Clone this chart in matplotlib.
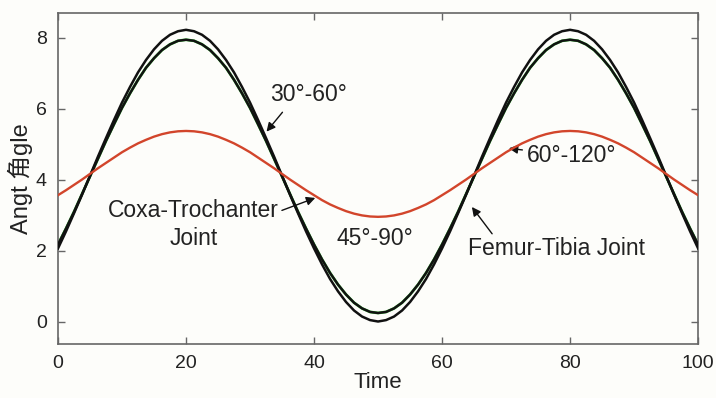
import matplotlib
matplotlib.use("Agg")
import matplotlib.pyplot as plt

plt.rcParams['font.family'] = ['Liberation Sans', 'Noto Sans CJK SC', 'DejaVu Sans']

time = [0.0, 1.25, 2.5, 3.75, 5.0, 6.25, 7.5, 8.75, 10.0, 11.25, 12.5, 13.75, 15.0, 16.25,
        17.5, 18.75, 20.0, 21.25, 22.5, 23.75, 25.0, 26.25, 27.5, 28.75, 30.0, 31.25, 32.5,
        33.75, 35.0, 36.25, 37.5, 38.75, 40.0, 41.25, 42.5, 43.75, 45.0, 46.25, 47.5, 48.75,
        50.0, 51.25, 52.5, 53.75, 55.0, 56.25, 57.5, 58.75, 60.0, 61.25, 62.5, 63.75, 65.0,
        66.25, 67.5, 68.75, 70.0, 71.25, 72.5, 73.75, 75.0, 76.25, 77.5, 78.75, 80.0, 81.25,
        82.5, 83.75, 85.0, 86.25, 87.5, 88.75, 90.0, 91.25, 92.5, 93.75, 95.0, 96.25, 97.5,
        98.75, 100.0]

femur_outer = [2.07, 2.55, 3.06, 3.58, 4.12,
               4.66, 5.18, 5.69, 6.18, 6.62, 7.03, 7.38, 7.68, 7.92, 8.09, 8.19, 8.23,
               8.19, 8.09, 7.92, 7.68, 7.38, 7.03, 6.62, 6.18, 5.69, 5.18, 4.66, 4.12,
               3.58, 3.06, 2.55, 2.07, 1.62, 1.21, 0.86, 0.56, 0.32, 0.15, 0.05, 0.01,
               0.05, 0.15, 0.32, 0.56, 0.86, 1.21, 1.62, 2.07, 2.55, 3.06, 3.58, 4.12,
               4.66, 5.18, 5.69, 6.18, 6.62, 7.03, 7.38, 7.68, 7.92, 8.09, 8.19, 8.23,
               8.19, 8.09, 7.92, 7.68, 7.38, 7.03, 6.62, 6.18, 5.69, 5.18, 4.66, 4.12,
               3.58, 3.06, 2.55, 2.07]

femur_inner = [2.18, 2.63, 3.10, 3.60, 4.10,
               4.60, 5.10, 5.57, 6.03, 6.44, 6.82, 7.16, 7.43, 7.66, 7.82, 7.92, 7.95,
               7.92, 7.82, 7.66, 7.43, 7.16, 6.82, 6.44, 6.03, 5.57, 5.10, 4.60, 4.10,
               3.60, 3.10, 2.63, 2.18, 1.76, 1.38, 1.05, 0.77, 0.54, 0.38, 0.28, 0.25,
               0.28, 0.38, 0.54, 0.77, 1.05, 1.38, 1.76, 2.18, 2.63, 3.10, 3.60, 4.10,
               4.60, 5.10, 5.57, 6.03, 6.44, 6.82, 7.16, 7.43, 7.66, 7.82, 7.92, 7.95,
               7.92, 7.82, 7.66, 7.43, 7.16, 6.82, 6.44, 6.03, 5.57, 5.10, 4.60, 4.10,
               3.60, 3.10, 2.63, 2.18]

coxa = [3.57, 3.71, 3.86, 4.01, 4.17,
        4.33, 4.48, 4.63, 4.78, 4.91, 5.03, 5.13, 5.22, 5.29, 5.34, 5.37, 5.38,
        5.37, 5.34, 5.29, 5.22, 5.13, 5.03, 4.91, 4.78, 4.63, 4.48, 4.33, 4.17,
        4.01, 3.86, 3.71, 3.57, 3.43, 3.31, 3.21, 3.12, 3.05, 3.00, 2.97, 2.96,
        2.97, 3.00, 3.05, 3.12, 3.21, 3.31, 3.43, 3.57, 3.71, 3.86, 4.01, 4.17,
        4.33, 4.48, 4.63, 4.78, 4.91, 5.03, 5.13, 5.22, 5.29, 5.34, 5.37, 5.38,
        5.37, 5.34, 5.29, 5.22, 5.13, 5.03, 4.91, 4.78, 4.63, 4.48, 4.33, 4.17,
        4.01, 3.86, 3.71, 3.57]

xticks = [0, 20, 40, 60, 80, 100]
yticks = [0, 2, 4, 6, 8]

fig = plt.figure(figsize=(7.16, 3.98), dpi=100)
fig.patch.set_facecolor('#fdfdfa')
ax = fig.add_axes([0.081, 0.136, 0.894, 0.831])
ax.set_facecolor('#fdfdfa')

ax.plot(time, femur_inner, color='#2aa02a', lw=2.0, zorder=2)
ax.plot(time, femur_outer, color='#111111', lw=1.8, zorder=3)
ax.plot(time, femur_inner, color='#111111', lw=1.7, zorder=3)
ax.plot(time, coxa, color='#d2452b', lw=1.7, zorder=4)

ax.set_xlim(0, 100)
ax.set_ylim(-0.62, 8.7)
ax.set_xticks(xticks)
ax.set_yticks(yticks)
ax.tick_params(direction='in', top=True, right=True, length=5, width=1,
               colors='#666666', labelcolor='#222222', labelsize=14, pad=8)
for s in ax.spines.values():
    s.set_color('#666666')
    s.set_linewidth(1.2)

ax.set_xlabel('Time', fontsize=16, color='#222222', labelpad=0)
ax.set_ylabel('Angt 角gle', fontsize=17, color='#222222', labelpad=2)

tk = dict(fontsize=16.5, color='#222222')
ax.annotate('30°-60°', xy=(32.3, 5.3), xytext=(39.2, 6.4), ha='center', va='center',
            arrowprops=dict(arrowstyle='-|>', color='#111111', lw=1.0, mutation_scale=13,
                            shrinkA=3, relpos=(0.22, 0.0)), **tk)
ax.annotate('60°-120°', xy=(70.0, 4.9), xytext=(73.2, 4.68), ha='left', va='center',
            arrowprops=dict(arrowstyle='-|>', color='#111111', lw=1.0, mutation_scale=13,
                            shrinkA=1), **tk)
ax.annotate('Coxa-Trochanter\nJoint', xy=(40.6, 3.52), xytext=(21.2, 2.75),
            ha='center', va='center', multialignment='center',
            arrowprops=dict(arrowstyle='-|>', color='#111111', lw=1.0, mutation_scale=13,
                            shrinkA=0, relpos=(1.0, 0.75)), linespacing=1.3, **tk)
ax.text(49.5, 2.35, '45°-90°', ha='center', va='center', **tk)
ax.annotate('Femur-Tibia Joint', xy=(64.4, 3.3), xytext=(64.0, 2.08), ha='left', va='center',
            arrowprops=dict(arrowstyle='-|>', color='#111111', lw=1.0, mutation_scale=13,
                            shrinkA=0, relpos=(0.15, 1.0)), **tk)

fig.savefig('out.png', dpi=100, facecolor=fig.get_facecolor())
